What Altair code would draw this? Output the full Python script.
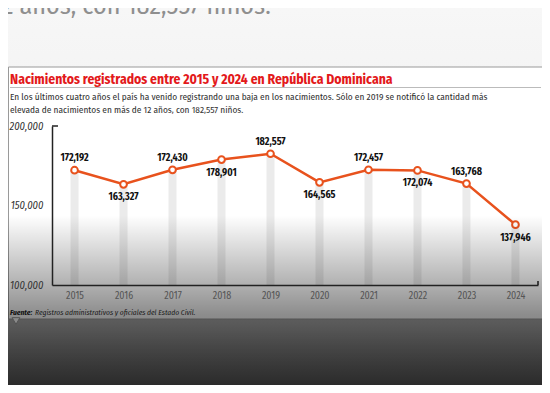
import altair as alt
import pandas as pd

years = [2015, 2016, 2017, 2018, 2019, 2020, 2021, 2022, 2023, 2024]
births = [172192, 163327, 172430, 178901, 182557, 164565, 172457, 172074, 163768, 137946]

title_text = "Nacimientos registrados entre 2015 y 2024 en República Dominicana"
subtitle_lines = [
    "En los últimos cuatro años el país ha venido registrando una baja en los nacimientos. Sólo en 2019 se notificó la cantidad más",
    "elevada de nacimientos en más de 12 años, con 182,557 niños.",
]
source_bold = "Fuente:"
source_text = "Registros administrativos y oficiales del Estado Civil."
top_text = "2 años, con 182,557 niños."

df = pd.DataFrame({"year": years, "births": births})
one = pd.DataFrame({"k": [0]})

FC = "Fira Sans Condensed, Roboto Condensed, sans-serif"
ORANGE = "#e8521d"

x = alt.X("year:O", scale=alt.Scale(type="point", padding=0.46),
          axis=alt.Axis(title=None, labelAngle=0, ticks=False, domainColor="#222",
                        domainWidth=1.5, labelFont=FC, labelFontSize=10,
                        labelColor="#555", labelPadding=5, zindex=1))
y = alt.Y("births:Q", scale=alt.Scale(domain=[100000, 200000], zero=False, nice=False),
          axis=alt.Axis(title=None, values=[100000, 150000, 200000], format=",.0f", ticks=False,
                        domainColor="#222", domainWidth=1.5, labelFontStyle="italic",
                        labelFont=FC, labelFontSize=10.5, labelColor="#333",
                        labelPadding=9, grid=False, zindex=1))

bg = alt.Chart(one).mark_rect(color=alt.LinearGradient(
    gradient="linear", x1=0, x2=0, y1=0, y2=1,
    stops=[alt.GradientStop(offset=0, color="#f7f7f7"),
           alt.GradientStop(offset=0.45, color="#f0f0f0"),
           alt.GradientStop(offset=0.84, color="#a8a8a8"),
           alt.GradientStop(offset=1, color="#6c6c6c")])).encode(
    x=alt.value(-44), x2=alt.value(490), y=alt.value(-118), y2=alt.value(259))

top = alt.Chart(pd.DataFrame({"t": [top_text]})).mark_text(
    align="left", baseline="alphabetic", font=FC, fontSize=26,
    color="#8f8f8f").encode(x=alt.value(-50), y=alt.value(-112), text="t:N")

card = alt.Chart(one).mark_rect(fill="white", stroke="#9a9a9a", strokeWidth=1).encode(
    x=alt.value(-43.5), x2=alt.value(493.5), y=alt.value(-59), y2=alt.value(193))

notch = alt.Chart(one).mark_point(shape="triangle-down", filled=True, fill="white",
                                  stroke="#9a9a9a", strokeWidth=1, size=60, opacity=1).encode(
    x=alt.value(-36), y=alt.value(195))

title = alt.Chart(pd.DataFrame({"t": [title_text]})).mark_text(
    align="left", baseline="alphabetic", font=FC, fontSize=13.6, fontWeight="bold",
    color="#e3191b").encode(x=alt.value(-42), y=alt.value(-42), text="t:N")

underline = alt.Chart(one).mark_rule(color="#bbbbbb", strokeWidth=1).encode(
    x=alt.value(-42), x2=alt.value(489), y=alt.value(-38.5))

sub1 = alt.Chart(pd.DataFrame({"t": [subtitle_lines[0]]})).mark_text(
    align="left", baseline="alphabetic", font=FC, fontSize=9.3, color="#333").encode(
    x=alt.value(-42), y=alt.value(-26), text="t:N")
sub2 = alt.Chart(pd.DataFrame({"t": [subtitle_lines[1]]})).mark_text(
    align="left", baseline="alphabetic", font=FC, fontSize=9.3, color="#333").encode(
    x=alt.value(-42), y=alt.value(-13), text="t:N")

bars = alt.Chart(df).mark_bar(size=8, color="#ebebeb").encode(x=x, y=y, y2=alt.datum(100000))

tick_top = alt.Chart(one).mark_rule(color="#222", strokeWidth=1.5).encode(
    y=alt.datum(200000), x=alt.value(0), x2=alt.value(6))
tick_right = alt.Chart(one).mark_rule(color="#222", strokeWidth=1.5).encode(
    x=alt.value(486), y=alt.value(155), y2=alt.value(159))

line = alt.Chart(df).mark_line(color=ORANGE, strokeWidth=2.5).encode(x=x, y=y)
pts = alt.Chart(df).mark_point(filled=True, fill="white", stroke=ORANGE, strokeWidth=2,
                               size=45, opacity=1).encode(x=x, y=y)

lab_up = alt.Chart(df).transform_filter("datum.year % 2 == 1").mark_text(
    dy=-12, font=FC, fontWeight="bold", fontSize=10, color="#111").encode(
    x=x, y=y, text=alt.Text("births:Q", format=",.0f"))
lab_dn = alt.Chart(df).transform_filter("datum.year % 2 == 0").mark_text(
    dy=13, font=FC, fontWeight="bold", fontSize=10, color="#111").encode(
    x=x, y=y, text=alt.Text("births:Q", format=",.0f"))

src1 = alt.Chart(pd.DataFrame({"t": [source_bold]})).mark_text(
    align="left", baseline="alphabetic", font=FC, fontSize=7.5, fontWeight="bold",
    fontStyle="italic", color="#222").encode(x=alt.value(-42), y=alt.value(189), text="t:N")
src2 = alt.Chart(pd.DataFrame({"t": [source_text]})).mark_text(
    align="left", baseline="alphabetic", font=FC, fontSize=7.5,
    fontStyle="italic", color="#333").encode(x=alt.value(-17), y=alt.value(189), text="t:N")

overlay = alt.Chart(one).mark_rect(color=alt.LinearGradient(
    gradient="linear", x1=0, x2=0, y1=0, y2=1,
    stops=[alt.GradientStop(offset=0, color="rgba(0,0,0,0)"),
           alt.GradientStop(offset=0.55, color="rgba(0,0,0,0)"),
           alt.GradientStop(offset=0.735, color="rgba(0,0,0,0.31)"),
           alt.GradientStop(offset=0.814, color="rgba(0,0,0,0.45)"),
           alt.GradientStop(offset=0.84, color="rgba(0,0,0,0.47)"),
           alt.GradientStop(offset=1, color="rgba(0,0,0,0.6)")])).encode(
    x=alt.value(-44), x2=alt.value(490), y=alt.value(-118), y2=alt.value(259))

chart = alt.layer(
    bg, top, card, notch, title, underline, sub1, sub2, bars, tick_top, tick_right,
    line, pts, lab_up, lab_dn, src1, src2, overlay
).properties(
    width=486, height=159,
    padding={"left": 44, "top": 118, "right": 4, "bottom": 100},
    autosize=alt.AutoSizeParams(type="none"),
).configure_view(strokeWidth=0)

chart.save("out.html", embed_options={"renderer": "svg", "actions": False})
